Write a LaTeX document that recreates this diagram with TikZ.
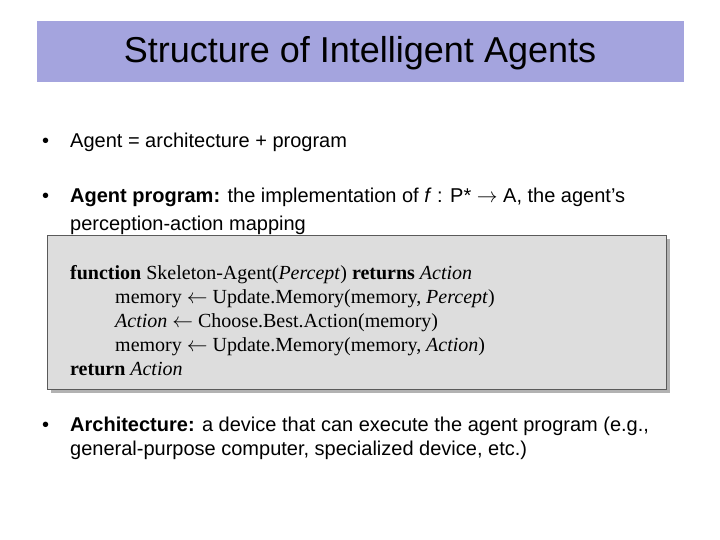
\documentclass[tikz,border=0pt]{standalone}
\usepackage{fontspec}
\setmainfont{Liberation Sans}
\newfontfamily\tms{Liberation Serif}
\begin{document}
\begin{tikzpicture}[x=1pt,y=-1pt,
  bul/.style={anchor=base west,font=\fontsize{20}{24}\selectfont,inner sep=0},
  code/.style={anchor=base west,font=\tms\fontsize{20}{24}\selectfont,inner sep=0}]
\useasboundingbox (0,0) rectangle (720,540);
\fill[white] (0,0) rectangle (720,540);
\node[fill={rgb,255:red,164;green,164;blue,222},minimum width=647,minimum height=61,inner sep=0,anchor=north west] (title) at (37,21) {};
\node[font=\fontsize{36}{40}\selectfont] (tt) at (360,53) {Structure of Intelligent Agents};
\node[bul] (b1) at (42,148) {•};
\node[bul] (t1) at (70,148) {Agent = architecture + program};
\node[bul] (b2) at (42,203) {•};
\node[bul] (t2) at (70,203) {\textbf{Agent program:} the implementation of \textit{f} : P* $\rightarrow$ A, the agent’s};
\node[bul] (t2b) at (70,230) {perception-action mapping};
\fill[gray!60] (51,239) rectangle (670,393);
\node[draw={rgb,255:red,90;green,90;blue,90},fill={rgb,255:red,221;green,221;blue,221},minimum width=619,minimum height=154,inner sep=0,anchor=north west] (box) at (47,235) {};
\node[code] (c1) at (70,279) {\textbf{function} Skeleton-Agent(\textit{Percept}) \textbf{returns} \textit{Action}};
\node[code] (c2) at (115,303) {memory $\leftarrow$ Update.Memory(memory, \textit{Percept})};
\node[code] (c3) at (115,327) {\textit{Action} $\leftarrow$ Choose.Best.Action(memory)};
\node[code] (c4) at (115,351) {memory $\leftarrow$ Update.Memory(memory, \textit{Action})};
\node[code] (c5) at (70,375) {\textbf{return} \textit{Action}};
\node[bul] (b3) at (42,431) {•};
\node[bul] (t3) at (70,431) {\textbf{Architecture:} a device that can execute the agent program (e.g.,};
\node[bul] (t3b) at (70,455) {general-purpose computer, specialized device, etc.)};
\end{tikzpicture}
\end{document}
